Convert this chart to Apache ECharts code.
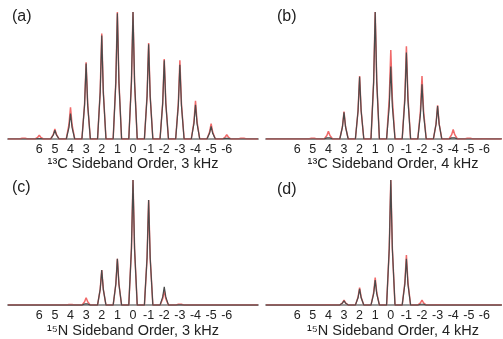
<!DOCTYPE html>
<html>
<head>
<meta charset="utf-8">
<script src="https://cdn.jsdelivr.net/npm/echarts@6/dist/echarts.min.js"></script>
<style>
  html, body { margin: 0; padding: 0; background: #fff; }
  #chart { width: 503px; height: 339px; }
</style>
</head>
<body>
<div id="chart"></div>
<script>
// sideband orders, left to right
const orders = [7, 6, 5, 4, 3, 2, 1, 0, -1, -2, -3, -4, -5, -6, -7];

// peak heights, % of the tallest peak in each panel
const aBlack = [0, 0.5, 7, 20, 59.5, 81.5, 99, 100, 74.5, 62, 58.5, 27, 10, 1, 0];
const aRed   = [1.3, 3, 8, 25, 60.5, 83, 100, 100, 75.5, 63, 62, 30, 12, 3.5, 1.5];
const bBlack = [0, 0, 0, 2, 21, 49, 100, 57, 68, 43, 26, 2, 0, 0, 0];
const bRed   = [0, 0, 1.2, 6, 21.5, 49.5, 100, 70, 73, 49.5, 26.5, 7.5, 1.5, 0.5, 0];
const cBlack = [0, 0, 0, 0, 2, 28, 37, 100, 84, 14.5, 0.5, 0, 0, 0, 0];
const cRed   = [0, 0, 0, 1.2, 5.8, 28, 37, 100, 84, 11.3, 1.5, 0, 0, 0, 0];
const dBlack = [0, 0, 0, 0, 3.5, 13, 20, 100, 37, 1.5, 0, 0, 0, 0, 0];
const dRed   = [0, 0, 0, 0.5, 4, 14, 22, 100, 40, 4, 0.5, 0, 0, 0, 0];

const panelLabels = ['(a)', '(b)', '(c)', '(d)'];
const axisNames = [
  '\u00b9\u00b3C Sideband Order, 3 kHz',
  '\u00b9\u00b3C Sideband Order, 4 kHz',
  '\u00b9\u2075N Sideband Order, 3 kHz',
  '\u00b9\u2075N Sideband Order, 4 kHz'
];

const panels = [
  { black: aBlack, red: aRed, left: 8, width: 250, top: 12, min: -8, max: 8, lx: 12, ly: 9, namePad: 0 },
  { black: bBlack, red: bRed, left: 266, width: 235, top: 12, min: -7, max: 8, lx: 277, ly: 9, namePad: 20 },
  { black: cBlack, red: cRed, left: 8, width: 250, top: 180, min: -8, max: 8, lx: 12, ly: 180, namePad: 0 },
  { black: dBlack, red: dRed, left: 266, width: 235, top: 180, min: -7, max: 8, lx: 277, ly: 182, namePad: 20 }
];

// narrow peak outline built from the peak heights
function spectrum(heights, min, max) {
  const pts = [[max, 0]];
  orders.forEach((o, i) => {
    if (o > max || o < min) return;
    pts.push([o + 0.27, 0], [o + 0.1, heights[i] * 0.45], [o, heights[i]], [o - 0.1, heights[i] * 0.45], [o - 0.27, 0]);
  });
  pts.push([min, 0]);
  return pts;
}

const chart = echarts.init(document.getElementById('chart'));

const option = {
  animation: false,
  title: panels.map((p, i) => ({
    text: panelLabels[i],
    left: p.lx,
    top: p.ly,
    padding: 0,
    textStyle: { fontFamily: 'Liberation Sans', fontSize: 16, fontWeight: 'normal', color: '#222' }
  })),
  grid: panels.map(p => ({ left: p.left, width: p.width, top: p.top, height: 127 })),
  xAxis: panels.map((p, i) => ({
    type: 'value',
    gridIndex: i,
    min: p.min,
    max: p.max,
    interval: 1,
    inverse: true,
    splitLine: { show: false },
    axisTick: { show: false },
    axisLine: { show: true, onZero: false, lineStyle: { color: '#9a9a9a', width: 2 } },
    axisLabel: {
      margin: 4,
      fontFamily: 'Liberation Sans',
      fontSize: 12.5,
      color: '#222',
      showMinLabel: true,
      showMaxLabel: true,
      formatter: v => (Math.abs(v) <= 6 ? String(v) : '')
    },
    name: axisNames[i],
    nameLocation: 'middle',
    nameGap: 17,
    nameTextStyle: {
      fontFamily: 'Liberation Sans',
      fontSize: 14.5,
      color: '#222',
      padding: [0, 0, 0, p.namePad]
    }
  })),
  yAxis: panels.map((p, i) => ({
    type: 'value',
    gridIndex: i,
    min: 0,
    max: 100,
    show: false
  })),
  series: panels.flatMap((p, i) => [
    {
      type: 'line',
      xAxisIndex: i,
      yAxisIndex: i,
      data: spectrum(p.red, p.min, p.max),
      showSymbol: false,
      z: 2,
      lineStyle: { color: '#f06a6a', width: 1.5 }
    },
    {
      type: 'line',
      xAxisIndex: i,
      yAxisIndex: i,
      data: spectrum(p.black, p.min, p.max),
      showSymbol: false,
      z: 3,
      lineStyle: { color: '#4a4a4a', width: 1.2 }
    }
  ])
};

chart.setOption(option);
</script>
</body>
</html>
